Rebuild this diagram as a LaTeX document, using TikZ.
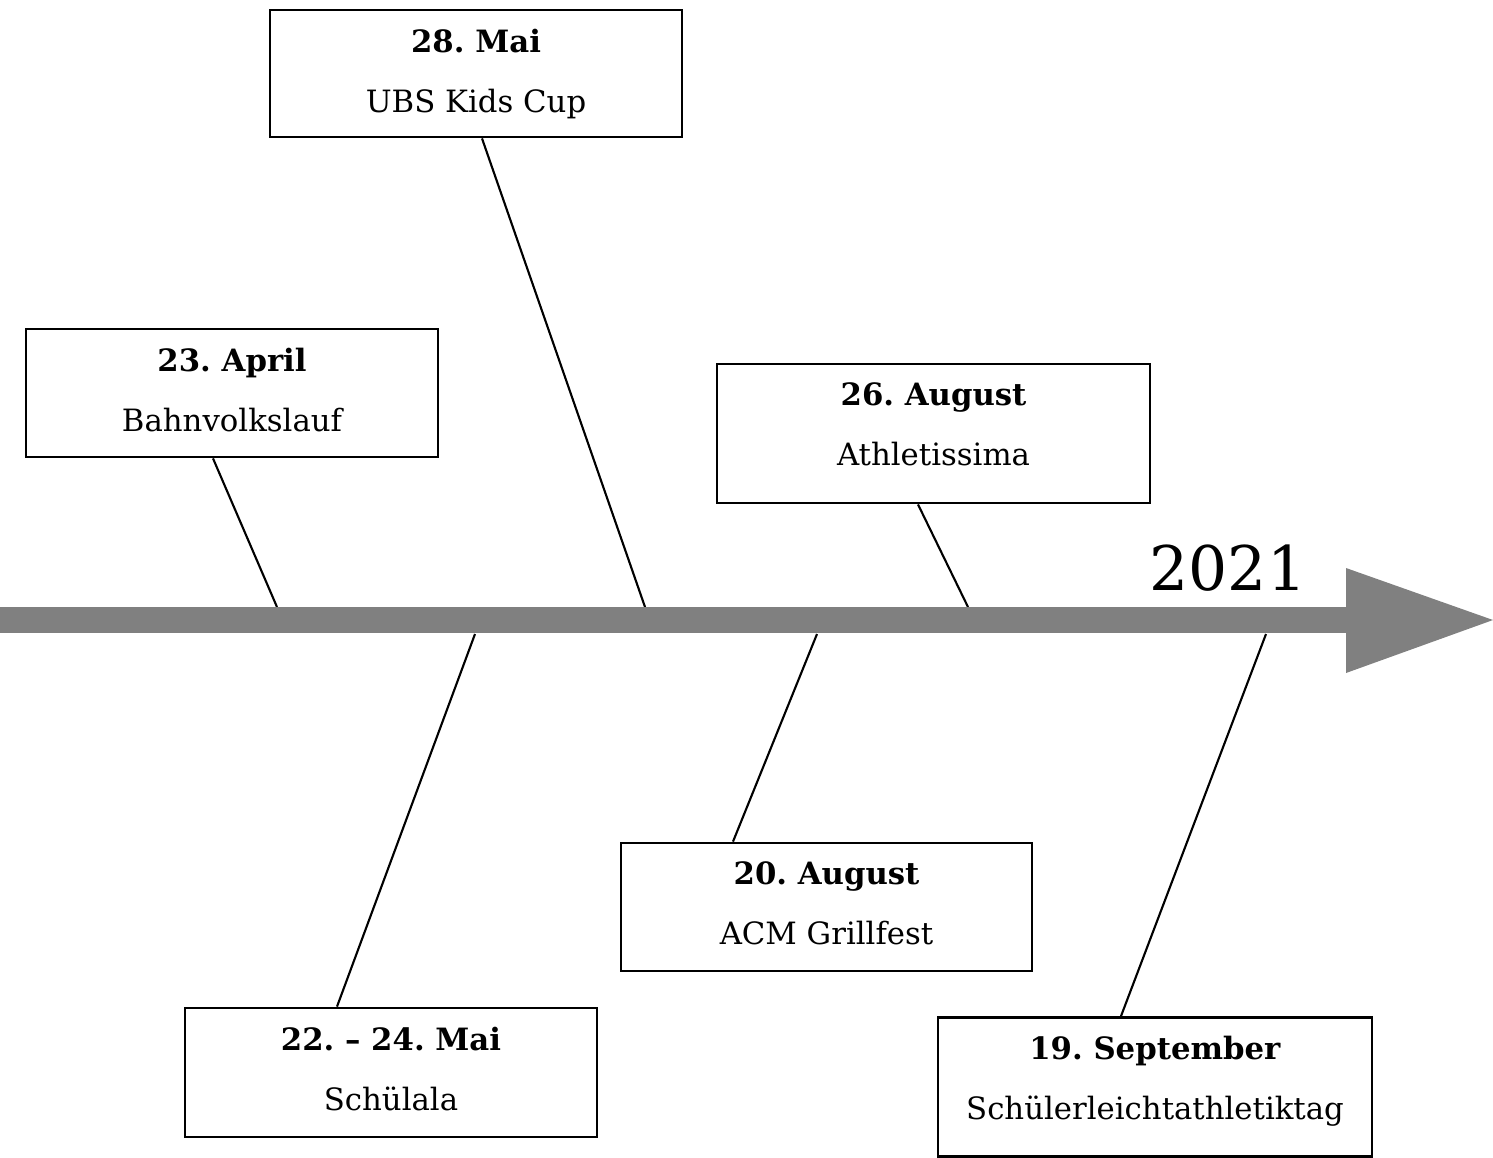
\documentclass[tikz,border=0pt]{standalone}
\usepackage{fontspec}
\setmainfont{DejaVu Serif}
\usetikzlibrary{positioning}
\definecolor{axisgray}{RGB}{128,128,128}
\frenchspacing

\begin{document}
\begin{tikzpicture}[x=0.2mm,y=-0.2mm,
    event/.style={draw,line width=1.6pt,fill=white,inner sep=0pt},
    eventtext/.style={inner sep=0pt,align=center,font=\fontsize{17.5}{34}\selectfont},
    link/.style={line width=1.2pt}]
    \useasboundingbox (0,0) rectangle (1493,1157);
    % boxes: date/text/x/y/width/height
    \foreach \d/\t/\x/\y/\w/\h [count=\i] in {
      28. Mai/UBS Kids Cup/476/73.5/412/127,
      23. April/Bahnvolkslauf/232/393/412/128,
      26. August/Athletissima/933.5/433.5/433/139,
      22.~--~24. Mai/Schülala/391/1072.5/412/129,
      20. August/ACM Grillfest/826.5/907/411/128,
      19. September/Schülerleichtathletiktag/1155/1087/434/139}
    {
      \node[event,minimum width=0.2mm*\w,minimum height=0.2mm*\h] (e\i) at (\x,\y) {};
      \node[eventtext,below=4mm of e\i.north] (l\i) {\textbf{\d}\\\t};
    }
    % connectors to the time axis
    \foreach \i/\dx/\ax/\ay/\side in {1/6/645/607/south, 2/-19/277/607/south, 3/-15.5/968/607/south,
      4/-54/475/634/north, 5/-93.5/817/634/north, 6/-34/1266/634/north}
    {
      \coordinate (t\i) at (\ax,\ay);
      \draw[link] ([xshift=0.2mm*\dx]e\i.\side) -- (t\i);
    }
    % time axis
    \fill[axisgray] (0,607) rectangle (1346,633);
    \fill[axisgray] (1346,568) -- (1493,620) -- (1346,673) -- cycle;
    \node[anchor=base,font=\fontsize{35}{42}\selectfont] (year) at (1228,590) {2021};
  \end{tikzpicture}
\end{document}
